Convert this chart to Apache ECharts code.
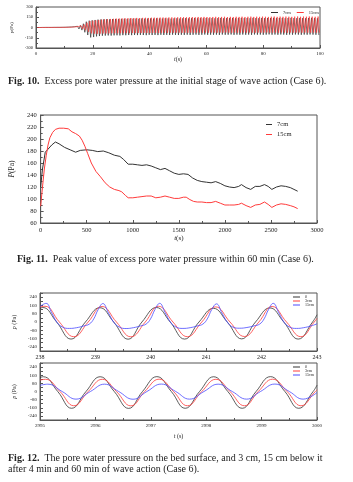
<!DOCTYPE html>
<html>
<head>
<meta charset="utf-8">
<script src="https://cdn.jsdelivr.net/npm/echarts@6/dist/echarts.min.js"></script>
<style>
html, body { margin: 0; padding: 0; background: #fff; }
#main { width: 353px; height: 482px; }
</style>
</head>
<body>
<div id="main"></div>
<script>
// ---- Fig. 10 : peaks / troughs of each wave cycle (Pa), one value per cycle
var wavePeriod10 = 1.03;
var peak7 = [
  0, 0, 1, 1, 1, 1, 2, 2, 2, 3,
  4, 6, 8, 12, 18, 30, 55, 85, 100, 105,
  110, 115, 118, 120, 122, 120, 124, 125, 123, 126,
  128, 126, 130, 129, 131, 128, 132, 130, 131, 133,
  130, 134, 132, 131, 135, 133, 130, 134, 136, 132,
  135, 137, 133, 136, 138, 134, 137, 135, 139, 136,
  138, 135, 137, 140, 136, 138, 137, 139, 135, 138,
  140, 137, 139, 136, 141, 138, 136, 140, 137, 139,
  138, 141, 137, 139, 140, 136, 139, 141, 138, 137,
  140, 138, 136, 139, 141, 137, 135
];
var trough7 = [
  0, 0, -1, -1, -1, -2, -2, -2, -3, -3,
  -5, -7, -10, -15, -22, -38, -70, -110, -145, -140,
  -130, -125, -120, -118, -116, -118, -115, -114, -116, -112,
  -113, -110, -112, -109, -111, -108, -110, -112, -107, -110,
  -108, -111, -106, -109, -107, -110, -105, -108, -110, -106,
  -108, -105, -109, -106, -104, -108, -106, -103, -107, -105,
  -106, -104, -108, -103, -106, -105, -102, -107, -104, -106,
  -103, -106, -104, -107, -102, -105, -103, -106, -104, -101,
  -105, -103, -106, -102, -104, -107, -103, -105, -102, -104,
  -106, -103, -105, -102, -104, -106, -110
];
var peak15 = [
  0, 0, 0, 1, 1, 1, 1, 2, 2, 2,
  3, 4, 6, 9, 14, 25, 45, 70, 95, 100,
  105, 110, 115, 118, 122, 125, 127, 130, 132, 133,
  135, 136, 138, 137, 140, 139, 141, 142, 140, 143,
  144, 142, 145, 146, 144, 147, 148, 146, 149, 150,
  151, 149, 152, 153, 150, 154, 152, 155, 153, 151,
  154, 156, 152, 155, 157, 153, 156, 154, 157, 155,
  158, 154, 157, 159, 155, 158, 156, 159, 157, 155,
  158, 160, 156, 159, 157, 160, 158, 156, 159, 161,
  157, 160, 158, 161, 159, 157, 160
];
var trough15 = [
  0, 0, 0, -1, -1, -1, -1, -2, -2, -2,
  -3, -4, -6, -9, -14, -22, -40, -65, -85, -90,
  -92, -90, -88, -87, -86, -85, -84, -85, -83, -84,
  -82, -83, -81, -82, -80, -81, -79, -80, -81, -78,
  -79, -80, -78, -77, -79, -76, -78, -77, -75, -78,
  -76, -77, -75, -78, -76, -74, -77, -75, -76, -74,
  -75, -77, -74, -76, -73, -75, -77, -74, -76, -75,
  -74, -76, -73, -75, -77, -74, -76, -75, -73, -76,
  -75, -74, -76, -73, -75, -77, -74, -76, -75, -73,
  -76, -74, -75, -77, -74, -76, -75
];

// ---- Fig. 11 : peak pressure over 60 min
var t11Black = [0, 20, 50, 80, 120, 160, 200, 260, 320, 380, 430, 500, 560, 620, 680, 740, 800, 860, 900, 950,
  1000, 1050, 1100, 1150, 1200, 1250, 1300, 1350, 1400, 1450, 1500, 1550, 1600, 1650, 1700, 1750, 1800, 1850, 1900, 1950,
  2000, 2050, 2100, 2150, 2180, 2230, 2280, 2330, 2380, 2430, 2470, 2510, 2560, 2610, 2660, 2710, 2750, 2790];
var p11Black = [120, 150, 178, 183, 190, 195, 192, 186, 182, 178, 181, 182, 181, 179, 180, 177, 173, 171, 166, 158,
  158, 157, 156, 157, 155, 152, 149, 151, 147, 143, 141, 142, 141, 135, 131, 129, 128, 127, 129, 126,
  122, 120, 119, 121, 124, 119, 116, 121, 121, 124, 121, 116, 120, 122, 121, 119, 116, 113];
var t11Red = [0, 20, 40, 60, 80, 100, 130, 160, 200, 250, 300, 340, 380, 420, 450, 480, 510, 550, 600, 650,
  700, 750, 800, 850, 880, 920, 950, 1000, 1050, 1100, 1150, 1200, 1250, 1300, 1350, 1400, 1450, 1500, 1550, 1580,
  1620, 1660, 1700, 1750, 1800, 1850, 1900, 1950, 2000, 2050, 2100, 2150, 2180, 2230, 2280, 2330, 2380, 2430, 2470, 2510,
  2560, 2610, 2660, 2710, 2750, 2790];
var p11Red = [88, 120, 150, 172, 190, 202, 211, 216, 218, 218, 217, 212, 209, 205, 198, 188, 176, 160, 146, 137,
  127, 120, 116, 114, 112, 106, 102, 102, 103, 104, 105, 105, 102, 103, 105, 103, 101, 101, 103, 103,
  99, 96, 95, 95, 94, 94, 96, 93, 90, 90, 90, 91, 93, 89, 86, 90, 91, 95, 91, 86,
  90, 92, 91, 89, 87, 84];

// ---- Fig. 12 : pressure histories [t (s), p (Pa)]
var f12a0 = [[238.00,132],[238.05,140],[238.30,0],[238.56,-165],[238.82,0],
  [239.08,138],[239.33,0],[239.59,-166],[239.84,0],
  [240.10,140],[240.35,0],[240.61,-165],[240.87,0],
  [241.13,132],[241.38,0],[241.64,-163],[241.89,0],
  [242.15,136],[242.40,0],[242.66,-165],[242.92,0],[243.00,70]];
var f12a3 = [[238.00,146],[238.09,152],[238.35,0],[238.61,-142],[238.87,0],
  [239.12,150],[239.38,0],[239.64,-143],[239.90,0],
  [240.14,152],[240.40,0],[240.66,-142],[240.92,0],
  [241.17,146],[241.43,0],[241.69,-140],[241.95,0],
  [242.19,150],[242.45,0],[242.71,-142],[242.95,0],[243.00,35]];
var f12a15 = [[238.00,150],[238.11,180],[238.21,90],[238.31,-5],[238.41,-50],[238.53,-62],[238.66,-55],[238.79,-38],[238.89,-20],[238.97,30],[239.05,120],
  [239.135,178],[239.235,88],[239.335,-5],[239.435,-50],[239.555,-63],[239.685,-55],[239.815,-38],[239.915,-20],[239.995,30],[240.075,120],
  [240.16,180],[240.26,90],[240.36,-5],[240.46,-50],[240.58,-62],[240.71,-55],[240.84,-38],[240.94,-20],[241.02,30],[241.10,120],
  [241.185,175],[241.285,86],[241.385,-5],[241.485,-50],[241.605,-60],[241.735,-53],[241.865,-37],[241.965,-20],[242.045,30],[242.125,120],
  [242.21,180],[242.31,90],[242.41,-5],[242.51,-50],[242.63,-62],[242.76,-55],[242.89,-38],[242.99,-20],[243.00,-15]];
var f12b0 = [[2995.00,138],[2995.06,145],[2995.32,0],[2995.57,-165],[2995.83,0],
  [2996.085,145],[2996.34,0],[2996.60,-166],[2996.85,0],
  [2997.11,146],[2997.37,0],[2997.62,-165],[2997.88,0],
  [2998.135,145],[2998.39,0],[2998.65,-165],[2998.90,0],
  [2999.16,146],[2999.42,0],[2999.67,-165],[2999.93,0],[3000.00,62]];
var f12b3 = [[2995.00,112],[2995.10,120],[2995.36,0],[2995.61,-140],[2995.87,0],
  [2996.125,120],[2996.38,0],[2996.64,-141],[2996.89,0],
  [2997.15,121],[2997.41,0],[2997.66,-140],[2997.92,0],
  [2998.175,120],[2998.43,0],[2998.69,-140],[2998.94,0],
  [2999.20,121],[2999.46,0],[2999.71,-140],[2999.97,0],[3000.00,16]];
var f12b15 = [[2995.00,60],[2995.14,72],[2995.40,0],[2995.65,-75],[2995.91,0],
  [2996.165,72],[2996.42,0],[2996.68,-76],[2996.93,0],
  [2997.19,73],[2997.45,0],[2997.70,-75],[2997.96,0],
  [2998.215,72],[2998.47,0],[2998.73,-75],[2998.98,0],
  [2999.24,73],[2999.50,0],[2999.75,-75],[3000.00,-10]];
var p12Ticks = [-240, -160, -80, 0, 80, 160, 240];

var captions = [
  '{b|Fig. 10.}  Excess pore water pressure at the initial stage of wave action (Case 6).',
  '{b|Fig. 11.}  Peak value of excess pore water pressure within 60 min (Case 6).',
  '{b|Fig. 12.}  The pore water pressure on the bed surface, and 3 cm, 15 cm below it\nafter 4 min and 60 min of wave action (Case 6).'
];

var SERIF = '"Liberation Serif", "DejaVu Serif", serif';
var BLACK = '#333333', RED = '#ff3b3b', BLUE = '#4a4aff';
var legendNames = { f10a: '7cm', f10b: '15cm', f11a: '7cm', f11b: '15cm',
  f12a: '0', f12b: '3cm', f12c: '15cm' };

function zigzag(peaks, troughs, shift) {
  var out = [];
  for (var i = 0; i < peaks.length; i++) {
    out.push([i * wavePeriod10 + shift, peaks[i]]);
    out.push([i * wavePeriod10 + shift + wavePeriod10 / 2, troughs[i]]);
  }
  return out;
}
function zip(ts, vs) {
  return ts.map(function (t, i) { return [t, vs[i]]; });
}
function plain(v) { return String(v); }

function nameStyle(fs) {
  return { fontFamily: SERIF, fontSize: fs, color: '#222',
    rich: { i: { fontFamily: SERIF, fontSize: fs, fontStyle: 'italic', color: '#222' } } };
}
function xAxisOf(idx, min, max, interval, fs, margin, name, nameGap, nfs) {
  return {
    type: 'value', gridIndex: idx, min: min, max: max, interval: interval,
    axisLine: { onZero: false, lineStyle: { color: '#555', width: 1 } },
    axisTick: { inside: true, length: 3, lineStyle: { color: '#555' } },
    minorTick: { show: true, splitNumber: 2, length: 2, lineStyle: { color: '#555' } },
    splitLine: { show: false },
    axisLabel: { fontFamily: SERIF, fontSize: fs, color: '#222', margin: margin, formatter: plain },
    name: name, nameLocation: 'middle', nameGap: nameGap,
    nameTextStyle: nameStyle(nfs)
  };
}
function yAxisOf(idx, min, max, interval, fs, margin, name, nameGap, nfs) {
  return {
    type: 'value', gridIndex: idx, min: min, max: max, interval: interval,
    axisLine: { show: true, onZero: false, lineStyle: { color: '#555', width: 1 } },
    axisTick: { show: true, inside: true, length: 3, lineStyle: { color: '#555' } },
    minorTick: { show: true, splitNumber: 2, length: 2, lineStyle: { color: '#555' } },
    splitLine: { show: false },
    axisLabel: { fontFamily: SERIF, fontSize: fs, color: '#222', margin: margin, formatter: plain },
    name: name, nameLocation: 'middle', nameGap: nameGap, nameRotate: 90,
    nameTextStyle: nameStyle(nfs)
  };
}
function lineOf(name, xi, data, color, width, smooth) {
  return {
    name: name, type: 'line', xAxisIndex: xi, yAxisIndex: xi, data: data,
    symbol: 'none', smooth: smooth || false, animation: false,
    lineStyle: { color: color, width: width }, itemStyle: { color: color }
  };
}
function legendOf(names, opt) {
  var base = {
    data: names, icon: 'rect', itemWidth: 7, itemHeight: 1, itemGap: 4,
    formatter: function (n) { return legendNames[n]; },
    padding: 0, selectedMode: false
  };
  for (var k in opt) base[k] = opt[k];
  return base;
}
function captionStyle() {
  return { fontFamily: SERIF, fontSize: 10, fontWeight: 'normal', color: '#222', lineHeight: 11,
    rich: { b: { fontFamily: SERIF, fontSize: 10, fontWeight: 'bold', color: '#222', lineHeight: 11 } } };
}

var y12a = yAxisOf(2, -280, 280, 40, 5, 3, '{i|p} (Pa)', 15, 6);
y12a.axisLabel.customValues = p12Ticks;
y12a.minorTick.show = false;
var y12b = yAxisOf(3, -280, 280, 40, 5, 3, '{i|p} (Pa)', 15, 6);
y12b.axisLabel.customValues = p12Ticks;
y12b.minorTick.show = false;

var chart = echarts.init(document.getElementById('main'), null, { renderer: 'canvas' });
chart.setOption({
  backgroundColor: '#ffffff',
  animation: false,
  title: [
    { text: captions[0], left: 8, top: 76, padding: 0, textStyle: captionStyle() },
    { text: captions[1], left: 17, top: 254, padding: 0, textStyle: captionStyle() },
    { text: captions[2], left: 8, top: 453, padding: 0, textStyle: captionStyle() }
  ],
  legend: [
    legendOf(['f10a', 'f10b'], { orient: 'horizontal', left: 271, top: 10, itemGap: 6,
      textStyle: { fontFamily: SERIF, fontSize: 4.5, color: '#222' } }),
    legendOf(['f11a', 'f11b'], { orient: 'vertical', left: 266, top: 121, itemWidth: 6, itemGap: 3,
      textStyle: { fontFamily: SERIF, fontSize: 6.5, color: '#222' } }),
    legendOf(['f12a', 'f12b', 'f12c'], { orient: 'vertical', left: 293, top: 295, itemGap: 0,
      textStyle: { fontFamily: SERIF, fontSize: 4, color: '#222' } }),
    legendOf(['f12a', 'f12b', 'f12c'], { orient: 'vertical', left: 293, top: 365, itemGap: 0,
      textStyle: { fontFamily: SERIF, fontSize: 4, color: '#222' } })
  ],
  grid: [
    { left: 36, top: 7, width: 284, height: 41, show: true, borderColor: '#555', borderWidth: 1 },
    { left: 39, top: 115, width: 278, height: 108, show: true, borderColor: '#555', borderWidth: 1 },
    { left: 40, top: 293, width: 277, height: 58, show: true, borderColor: '#555', borderWidth: 1 },
    { left: 40, top: 363, width: 277, height: 57, show: true, borderColor: '#555', borderWidth: 1 }
  ],
  xAxis: [
    xAxisOf(0, 0, 100, 20, 5, 3, '{i|t}(s)', 8, 6),
    xAxisOf(1, 0, 3000, 500, 6.5, 4, '{i|t}(s)', 10, 7),
    xAxisOf(2, 238, 243, 1, 6, 3, '', 0, 6),
    xAxisOf(3, 2995, 3000, 1, 5, 3, '{i|t} (s)', 13, 6)
  ],
  yAxis: [
    yAxisOf(0, -300, 300, 150, 4.5, 3, '{i|p}(Pa)', 13, 5),
    yAxisOf(1, 60, 240, 20, 6.5, 4, '{i|P}(Pa)', 24, 7.5),
    y12a,
    y12b
  ],
  series: [
    lineOf('f10a', 0, zigzag(peak7, trough7, 0.2), BLACK, 0.7),
    lineOf('f10b', 0, zigzag(peak15, trough15, 0.45), RED, 0.7),
    lineOf('f11a', 1, zip(t11Black, p11Black), BLACK, 1),
    lineOf('f11b', 1, zip(t11Red, p11Red), RED, 1),
    lineOf('f12a', 2, f12a0, BLACK, 0.8, 0.45),
    lineOf('f12b', 2, f12a3, RED, 0.8, 0.45),
    lineOf('f12c', 2, f12a15, BLUE, 0.8, 0.45),
    lineOf('f12a', 3, f12b0, BLACK, 0.8, 0.45),
    lineOf('f12b', 3, f12b3, RED, 0.8, 0.45),
    lineOf('f12c', 3, f12b15, BLUE, 0.8, 0.45)
  ]
});
window.addEventListener('resize', function () { chart.resize(); });
</script>
</body>
</html>
